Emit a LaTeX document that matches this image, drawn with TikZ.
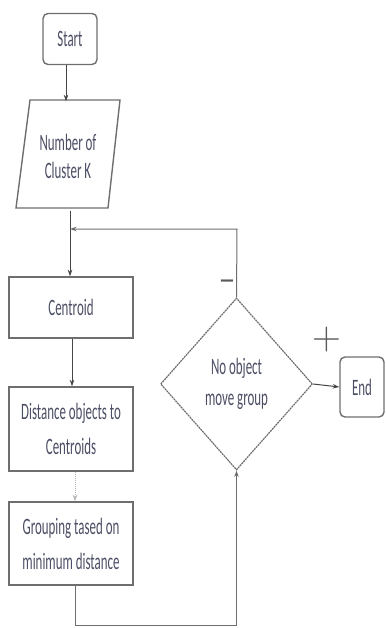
\documentclass[tikz,border=0pt]{standalone}
\usepackage{fontspec}
\setmainfont{Carlito}
\newfontfamily\condfont[FakeStretch=0.55]{Carlito}
\usetikzlibrary{shapes.geometric,arrows.meta}
\definecolor{txt}{RGB}{75,78,100}
\definecolor{edge}{RGB}{110,110,110}
\definecolor{wire}{RGB}{70,70,70}
\tikzset{
  box/.style={draw=edge,line width=1.4pt,minimum width=124pt,inner sep=0pt,
    font=\condfont\fontsize{23.5}{35}\selectfont,text=txt,align=center},
  rbox/.style={box,rounded corners=5pt},
  tip/.style={-{Stealth[length=6.5pt,width=4.5pt]}},
  arr/.style={line width=1pt,draw=wire,tip},
}
\begin{document}
\begin{tikzpicture}[x=1pt,y=-1pt]
\useasboundingbox (0,0) rectangle (385,628);
% Start
\node[rbox,minimum width=54pt,minimum height=51pt] (start) at (70,39) {Start};
% Input parallelogram
\coordinate (p1) at (30,100);
\coordinate (p2) at (120,100);
\coordinate (p3) at (108,208);
\coordinate (p4) at (16,208);
\draw[edge,line width=1.4pt,line join=miter] (p1) -- (p2) -- (p3) -- (p4) -- cycle;
\node[box,draw=none,minimum width=80pt,minimum height=108pt,font=\condfont\fontsize{23.5}{28}\selectfont] (input) at (68,156) {Number of\\Cluster K};
% Process boxes
\node[box,minimum height=61pt] (centroid) at (71,307.5) {Centroid};
\node[box,minimum height=84pt] (dist) at (71,429) {Distance objects to\\Centroids};
\node[box,minimum height=83pt] (group) at (71,543.5) {Grouping tased on\\minimum distance};
% Decision
\node[diamond,draw=edge,line width=1.2pt,dash pattern=on 2pt off 0.7pt,minimum width=152pt,minimum height=172pt,inner sep=0pt,
  font=\condfont\fontsize{23.5}{31}\selectfont,text=txt,align=center] (dec) at (236.5,384) {No object\\move group};
% End
\node[rbox,minimum width=44pt,minimum height=60pt] (end) at (362,387) {End};
% Connectors
\coordinate (fb) at (237,229);
\coordinate (gl) at (75,625);
\draw[arr] ([xshift=-4pt]start.south) -- ([xshift=-4pt]start.south |- input.north);
\draw[arr] (input.south -| 70,0) -- (centroid.north -| 70,0);
\draw[arr] (centroid.south -| 72,0) -- (dist.north -| 72,0);
\draw[arr,draw=edge!50,densely dotted] (dist.south -| 75,0) -- (group.north -| 75,0);
\draw[arr,draw=edge] (group.south -| gl) -- (gl) -- (gl -| dec.south) -- (dec.south);
\draw[arr,draw=edge] (dec.north) -- (fb) -- (fb -| 70,0);
\draw[arr] (dec.east) -- (end.west);
% Labels
\node[text=black!65,font=\fontsize{34}{34}\selectfont] (minus) at (227,285) {–};
\node[text=black!65,font=\fontspec{Latin Modern Roman}\fontsize{40}{40}\selectfont] (plus) at (327,340) {+};
\end{tikzpicture}
\end{document}
